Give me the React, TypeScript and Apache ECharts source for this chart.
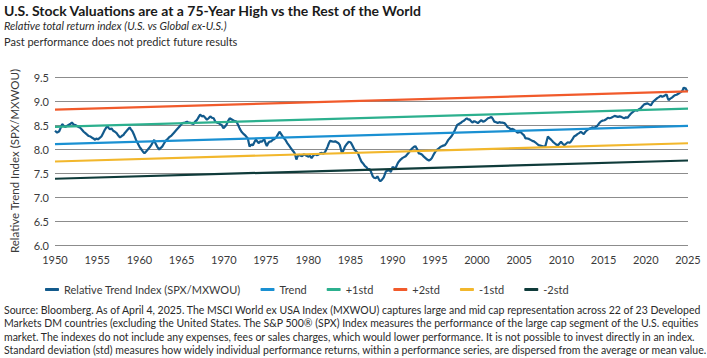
import React, { useEffect, useRef } from "react";
import * as echarts from "echarts";

const FONT = '"Lato", sans-serif';

const titleText = "U.S. Stock Valuations are at a 75-Year High vs the Rest of the World";
const subtitleText = "Relative total return index (U.S. vs Global ex-U.S.)";
const disclaimerText = "Past performance does not predict future results";
const footnoteLines = [
  "Source: Bloomberg. As of April 4, 2025. The MSCI World ex USA Index (MXWOU) captures large and mid cap representation across 22 of 23 Developed",
  "Markets DM countries (excluding the United States. The S&P 500® (SPX) Index measures the performance of the large cap segment of the U.S. equities",
  "market. The indexes do not include any expenses, fees or sales charges, which would lower performance. It is not possible to invest directly in an index.",
  "Standard deviation (std) measures how widely individual performance returns, within a performance series, are dispersed from the average or mean value.",
];

const yAxisName = "Relative Trend Index (SPX/MXWOU)";
const seriesNames = ["Relative Trend Index (SPX/MXWOU)", "Trend", "+1std", "+2std", "-1std", "-2std"];
const seriesColors = ["#125a8c", "#1a90d2", "#2cb08e", "#f15a2b", "#f2b72c", "#0f3b3a"];

// band lines: [value at 1950, value at 2025]
const bandYears = [1950, 2025];
const trendValues = [8.1, 8.48];
const plus1Values = [8.46, 8.84];
const plus2Values = [8.82, 9.2];
const minus1Values = [7.74, 8.12];
const minus2Values = [7.38, 7.76];

// Relative trend index [year, value]
const relativeIndex: [number, number][] = [
  [1950.0, 8.38], [1950.25, 8.34], [1950.5, 8.37], [1950.7, 8.45], [1950.85, 8.52], [1951.05, 8.48],
  [1951.25, 8.46], [1951.5, 8.49], [1951.8, 8.52], [1952.0, 8.55], [1952.2, 8.51], [1952.4, 8.5],
  [1952.6, 8.48], [1952.8, 8.46], [1953.0, 8.44], [1953.2, 8.4], [1953.4, 8.36], [1953.6, 8.33],
  [1953.8, 8.3], [1954.0, 8.27], [1954.2, 8.26], [1954.35, 8.24], [1954.55, 8.22], [1954.75, 8.19],
  [1954.9, 8.22], [1955.1, 8.2], [1955.3, 8.23], [1955.5, 8.26], [1955.7, 8.33], [1955.9, 8.4],
  [1956.05, 8.44], [1956.2, 8.48], [1956.35, 8.44], [1956.5, 8.41], [1956.7, 8.43], [1956.9, 8.38],
  [1957.1, 8.36], [1957.3, 8.33], [1957.5, 8.28], [1957.7, 8.24], [1957.9, 8.27], [1958.1, 8.29],
  [1958.25, 8.33], [1958.4, 8.36], [1958.6, 8.4], [1958.85, 8.45], [1959.0, 8.41], [1959.2, 8.36],
  [1959.4, 8.28], [1959.6, 8.19], [1959.8, 8.12], [1960.0, 8.05], [1960.2, 8.0], [1960.4, 7.95],
  [1960.6, 7.91], [1960.8, 7.95], [1961.0, 7.99], [1961.2, 8.03], [1961.4, 8.08], [1961.6, 8.14],
  [1961.75, 8.19], [1961.9, 8.12], [1962.1, 8.05], [1962.35, 7.99], [1962.5, 8.02], [1962.7, 8.05],
  [1962.9, 8.11], [1963.1, 8.17], [1963.3, 8.2], [1963.5, 8.24], [1963.8, 8.28], [1964.1, 8.34],
  [1964.4, 8.4], [1964.7, 8.46], [1964.9, 8.5], [1965.1, 8.54], [1965.4, 8.55], [1965.65, 8.57],
  [1965.85, 8.54], [1966.0, 8.55], [1966.2, 8.53], [1966.4, 8.52], [1966.6, 8.57], [1966.8, 8.6],
  [1967.0, 8.66], [1967.2, 8.72], [1967.4, 8.68], [1967.6, 8.69], [1967.8, 8.65], [1968.0, 8.61],
  [1968.2, 8.64], [1968.4, 8.68], [1968.6, 8.65], [1968.8, 8.64], [1969.0, 8.57], [1969.2, 8.55],
  [1969.4, 8.54], [1969.6, 8.51], [1969.75, 8.5], [1969.95, 8.43], [1970.1, 8.46], [1970.3, 8.5],
  [1970.5, 8.58], [1970.7, 8.64], [1970.9, 8.62], [1971.1, 8.6], [1971.3, 8.58], [1971.5, 8.57],
  [1971.7, 8.5], [1971.9, 8.42], [1972.1, 8.36], [1972.3, 8.32], [1972.5, 8.29], [1972.7, 8.25],
  [1972.85, 8.22], [1973.05, 8.05], [1973.25, 8.09], [1973.45, 8.08], [1973.65, 8.15], [1973.8, 8.2],
  [1974.0, 8.15], [1974.15, 8.12], [1974.3, 8.16], [1974.5, 8.15], [1974.65, 8.18], [1974.8, 8.2],
  [1974.95, 8.12], [1975.1, 8.06], [1975.25, 8.12], [1975.4, 8.15], [1975.6, 8.16], [1975.8, 8.19],
  [1976.0, 8.21], [1976.2, 8.24], [1976.4, 8.3], [1976.6, 8.36], [1976.8, 8.31], [1976.95, 8.27],
  [1977.1, 8.23], [1977.3, 8.19], [1977.5, 8.13], [1977.7, 8.08], [1977.9, 8.03], [1978.1, 7.98],
  [1978.25, 7.95], [1978.4, 7.91], [1978.6, 7.78], [1978.75, 7.85], [1978.9, 7.88], [1979.1, 7.86],
  [1979.3, 7.85], [1979.45, 7.89], [1979.6, 7.88], [1979.8, 7.86], [1980.05, 7.84], [1980.2, 7.86],
  [1980.4, 7.81], [1980.6, 7.86], [1980.8, 7.9], [1981.0, 7.87], [1981.2, 7.88], [1981.4, 7.91],
  [1981.6, 7.92], [1981.8, 7.9], [1982.0, 7.94], [1982.15, 7.99], [1982.3, 8.05], [1982.45, 8.12],
  [1982.6, 8.17], [1982.8, 8.16], [1983.0, 8.15], [1983.2, 8.16], [1983.4, 8.14], [1983.6, 8.12],
  [1983.75, 8.08], [1983.9, 7.98], [1984.0, 7.91], [1984.2, 7.98], [1984.35, 8.05], [1984.6, 8.11],
  [1984.8, 8.15], [1985.0, 8.14], [1985.1, 8.12], [1985.3, 8.05], [1985.5, 7.98], [1985.7, 7.95],
  [1985.9, 7.91], [1986.1, 7.82], [1986.3, 7.74], [1986.5, 7.7], [1986.7, 7.65], [1986.9, 7.62],
  [1987.1, 7.57], [1987.3, 7.58], [1987.5, 7.5], [1987.65, 7.43], [1987.8, 7.4], [1988.0, 7.39],
  [1988.2, 7.43], [1988.4, 7.36], [1988.55, 7.33], [1988.7, 7.35], [1988.95, 7.41], [1989.2, 7.53],
  [1989.4, 7.55], [1989.6, 7.56], [1989.8, 7.52], [1990.0, 7.63], [1990.2, 7.6], [1990.4, 7.62],
  [1990.6, 7.7], [1990.75, 7.74], [1990.95, 7.78], [1991.15, 7.81], [1991.35, 7.83], [1991.55, 7.85],
  [1991.75, 7.89], [1991.9, 7.92], [1992.1, 7.97], [1992.3, 8.01], [1992.5, 8.04], [1992.7, 8.06],
  [1992.9, 8.0], [1993.1, 7.91], [1993.3, 7.9], [1993.5, 7.88], [1993.7, 7.84], [1993.9, 7.81],
  [1994.1, 7.78], [1994.3, 7.76], [1994.5, 7.78], [1994.65, 7.81], [1994.85, 7.88], [1995.05, 7.94],
  [1995.25, 7.98], [1995.45, 8.01], [1995.65, 8.04], [1995.85, 8.06], [1996.0, 8.07], [1996.2, 8.08],
  [1996.4, 8.13], [1996.6, 8.19], [1996.8, 8.23], [1997.0, 8.27], [1997.2, 8.33], [1997.4, 8.4],
  [1997.65, 8.5], [1997.85, 8.52], [1998.05, 8.54], [1998.25, 8.57], [1998.45, 8.59], [1998.65, 8.62],
  [1998.8, 8.64], [1999.0, 8.61], [1999.1, 8.62], [1999.3, 8.58], [1999.45, 8.55], [1999.65, 8.58],
  [1999.8, 8.57], [2000.1, 8.54], [2000.3, 8.57], [2000.5, 8.6], [2000.7, 8.57], [2000.9, 8.58],
  [2001.1, 8.61], [2001.3, 8.64], [2001.5, 8.65], [2001.7, 8.67], [2001.9, 8.62], [2002.05, 8.57],
  [2002.25, 8.56], [2002.45, 8.54], [2002.65, 8.56], [2002.8, 8.55], [2003.0, 8.55], [2003.25, 8.54],
  [2003.45, 8.5], [2003.6, 8.46], [2003.8, 8.44], [2004.0, 8.41], [2004.2, 8.42], [2004.4, 8.4],
  [2004.6, 8.37], [2004.8, 8.34], [2005.0, 8.35], [2005.2, 8.35], [2005.4, 8.31], [2005.55, 8.29],
  [2005.75, 8.22], [2005.95, 8.22], [2006.15, 8.21], [2006.35, 8.19], [2006.55, 8.17], [2006.75, 8.16],
  [2006.9, 8.14], [2007.1, 8.11], [2007.3, 8.08], [2007.5, 8.07], [2007.7, 8.06], [2007.9, 8.05],
  [2008.1, 8.06], [2008.25, 8.16], [2008.4, 8.26], [2008.6, 8.22], [2008.8, 8.19], [2009.0, 8.15],
  [2009.2, 8.12], [2009.4, 8.09], [2009.6, 8.08], [2009.8, 8.12], [2009.95, 8.15], [2010.15, 8.11],
  [2010.35, 8.08], [2010.55, 8.11], [2010.75, 8.14], [2010.95, 8.13], [2011.1, 8.15], [2011.3, 8.2],
  [2011.5, 8.26], [2011.7, 8.28], [2011.9, 8.31], [2012.1, 8.33], [2012.3, 8.36], [2012.5, 8.33],
  [2012.65, 8.31], [2012.85, 8.36], [2013.1, 8.4], [2013.3, 8.42], [2013.45, 8.43], [2013.65, 8.45],
  [2013.85, 8.44], [2014.05, 8.46], [2014.25, 8.48], [2014.45, 8.53], [2014.65, 8.57], [2014.85, 8.59],
  [2015.1, 8.6], [2015.3, 8.62], [2015.5, 8.65], [2015.7, 8.64], [2015.9, 8.65], [2016.1, 8.67],
  [2016.3, 8.69], [2016.5, 8.68], [2016.7, 8.67], [2016.9, 8.68], [2017.1, 8.67], [2017.3, 8.65],
  [2017.45, 8.64], [2017.65, 8.66], [2017.85, 8.65], [2018.05, 8.7], [2018.25, 8.74], [2018.45, 8.77],
  [2018.6, 8.79], [2018.8, 8.81], [2019.0, 8.8], [2019.2, 8.83], [2019.4, 8.85], [2019.6, 8.89],
  [2019.8, 8.93], [2020.0, 8.94], [2020.2, 8.95], [2020.4, 8.93], [2020.6, 8.91], [2020.8, 8.97],
  [2020.95, 9.0], [2021.15, 9.03], [2021.35, 9.06], [2021.55, 9.08], [2021.75, 9.11], [2021.95, 9.09],
  [2022.1, 9.1], [2022.3, 9.12], [2022.45, 9.14], [2022.6, 9.06], [2022.7, 9.02], [2022.9, 9.05],
  [2023.1, 9.07], [2023.3, 9.1], [2023.45, 9.12], [2023.65, 9.13], [2023.85, 9.15], [2024.0, 9.17],
  [2024.2, 9.19], [2024.35, 9.22], [2024.5, 9.28], [2024.6, 9.26], [2024.7, 9.27], [2024.85, 9.22],
  [2025.0, 9.21],
];

const bandSeries = [trendValues, plus1Values, plus2Values, minus1Values, minus2Values];

export default function App() {
  const ref = useRef<HTMLDivElement>(null);
  useEffect(() => {
    if (!ref.current) return;
    const chart = echarts.init(ref.current, undefined, { renderer: "svg" });
    const series: any[] = [
      {
        name: seriesNames[0],
        type: "line",
        data: relativeIndex,
        showSymbol: false,
        symbol: "none",
        lineStyle: { width: 2.2, color: seriesColors[0] },
        itemStyle: { color: seriesColors[0] },
      },
      ...bandSeries.map((vals, i) => ({
        name: seriesNames[i + 1],
        type: "line",
        data: bandYears.map((yr, j) => [yr, vals[j]]),
        showSymbol: false,
        symbol: "none",
        lineStyle: { width: 2.2, color: seriesColors[i + 1] },
        itemStyle: { color: seriesColors[i + 1] },
      })),
    ];
    chart.setOption({
      animation: false,
      backgroundColor: "#ffffff",
      textStyle: { fontFamily: FONT },
      grid: { left: 46, right: 19, top: 77, bottom: 113, containLabel: false },
      xAxis: {
        type: "value",
        min: 1950,
        max: 2025,
        interval: 5,
        axisLine: { show: false },
        axisTick: { show: false },
        splitLine: { show: false },
        axisLabel: {
          fontSize: 11,
          color: "#3a3a3a",
          margin: 9,
          fontFamily: FONT,
          formatter: (v: number) => String(Math.round(v)),
        },
      },
      yAxis: {
        type: "value",
        min: 6,
        max: 9.5,
        interval: 0.5,
        name: yAxisName,
        nameLocation: "middle",
        nameGap: 35,
        nameTextStyle: { fontSize: 11.5, color: "#3a3a3a", fontFamily: FONT },
        axisLine: { show: false },
        axisTick: { show: false },
        splitLine: { lineStyle: { color: "#8c8c8c", width: 1 } },
        axisLabel: {
          fontSize: 11,
          color: "#3a3a3a",
          margin: 6,
          fontFamily: FONT,
          formatter: (v: number) => v.toFixed(1),
        },
      },
      legend: {
        top: 279,
        left: 40,
        icon: "roundRect",
        itemWidth: 14,
        itemHeight: 3,
        itemGap: 20,
        textStyle: { fontSize: 11, color: "#3a3a3a", fontFamily: FONT },
        data: seriesNames,
      },
      graphic: [
        {
          type: "text",
          left: 4,
          top: 3,
          style: { text: titleText, fontSize: 14, fontWeight: "bold", fontFamily: FONT, fill: "#1a1a1a" },
        },
        {
          type: "text",
          left: 4,
          top: 20,
          style: { text: subtitleText, fontSize: 11, fontStyle: "italic", fontFamily: FONT, fill: "#2a2a2a" },
        },
        {
          type: "text",
          left: 4,
          top: 36,
          style: { text: disclaimerText, fontSize: 11, fontFamily: FONT, fill: "#2a2a2a" },
        },
        {
          type: "text",
          left: 4,
          top: 303,
          style: {
            text: footnoteLines.join("\n"),
            fontSize: 10.5,
            lineHeight: 13.4,
            fontFamily: FONT,
            fill: "#2a2a2a",
          },
        },
      ],
      series,
    });
    return () => chart.dispose();
  }, []);
  return (
    <div
      ref={ref}
      style={{ position: "fixed", left: 0, top: 0, width: 707, height: 358, background: "#fff" }}
    />
  );
}
